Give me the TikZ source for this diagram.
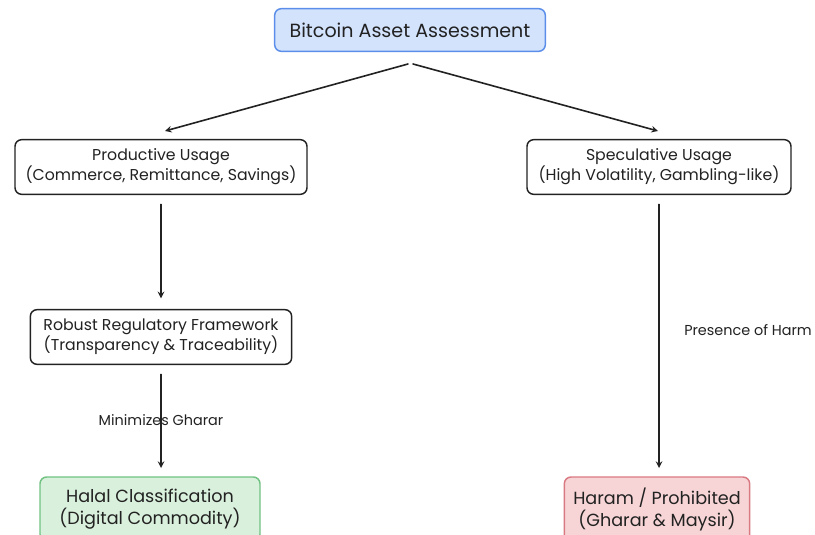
\documentclass[tikz,border=0pt]{standalone}
\usepackage{fontspec}
\setmainfont{Poppins}
\begin{document}
\begin{tikzpicture}[x=.75pt,y=-.75pt,line join=round,line cap=round]
			\definecolor{boxblue}{HTML}{D3E3FC}
			\definecolor{lineblue}{HTML}{5A8EEA}
			\definecolor{boxgreen}{HTML}{D9F0DC}
			\definecolor{linegreen}{HTML}{72C283}
			\definecolor{boxred}{HTML}{F7D5D6}
			\definecolor{linered}{HTML}{D97A82}
			\definecolor{ink}{HTML}{222222}
			\useasboundingbox[fill=white] (0,0) rectangle (815,535);
			
			\tikzset{
				stepbox/.style={draw=ink,line width=1.1pt,rounded corners=5pt,align=center,
					minimum height=41pt,inner sep=1pt,font=\fontsize{11.8}{15}\selectfont,text=ink},
				arr/.style={->,>=stealth,line width=1.2pt,draw=ink},
				lab/.style={font=\fontsize{10.8}{13}\selectfont,text=ink,inner sep=0pt}
			}
			
			% top
			\node[stepbox,fill=boxblue,draw=lineblue,minimum width=203pt,minimum height=32pt,
				font=\fontsize{14.3}{16}\selectfont] (asset) at (410,30) {Bitcoin Asset Assessment};
			
			% two branches
			\node[stepbox,minimum width=219pt] (prod) at (161,167)
				{Productive Usage\\(Commerce, Remittance, Savings)};
			\node[stepbox,minimum width=198pt] (spec) at (659,167)
				{Speculative Usage\\(High Volatility, Gambling-like)};
			\node[stepbox,minimum width=196pt] (frame) at (161,337)
				{Robust Regulatory Framework\\(Transparency \& Traceability)};
			
			% outcomes (cut by the lower edge)
			\node[stepbox,fill=boxgreen,draw=linegreen,minimum width=165pt,minimum height=48pt,
				font=\fontsize{13.2}{16.5}\selectfont] (halal) at (150,509)
				{Halal Classification\\(Digital Commodity)};
			\node[stepbox,fill=boxred,draw=linered,minimum width=139pt,minimum height=48pt,
				font=\fontsize{13.2}{16.5}\selectfont] (haram) at (657,509)
				{Haram / Prohibited\\(Gharar \& Maysir)};
			
			\path
			(408,64) coordinate (aL)
			(413,64) coordinate (aR)
			(165,131) coordinate (pT)
			(658,131) coordinate (sT)
			(161,468) coordinate (hT)
			(659,468) coordinate (rT);
			\draw[arr] (aL)--(pT);
			\draw[arr] (aR)--(sT);
			
			\draw[arr] ([yshift=-7pt]prod.south)--([yshift=8pt]frame.north);
			\draw[arr] ([yshift=-7pt]frame.south)--(hT)
				node[lab,pos=.49] (lmin) {Minimizes Gharar};
			\draw[arr] ([yshift=-7pt]spec.south)--(rT);
			\node[lab,anchor=west] (lharm) at (684,330) {Presence of Harm};
		\end{tikzpicture}
\end{document}
